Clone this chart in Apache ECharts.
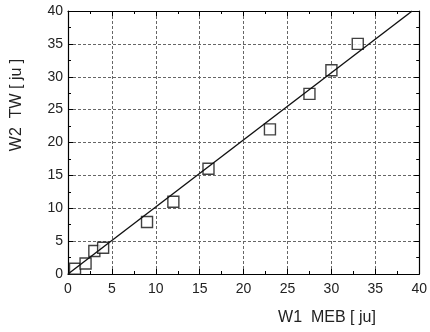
<!DOCTYPE html>
<html><head><meta charset="utf-8">
<script src="https://cdn.jsdelivr.net/npm/echarts@6/dist/echarts.min.js"></script>
<style>html,body{margin:0;padding:0;background:#fff}#c{width:430px;height:332px}</style>
</head><body><div id="c"></div>
<script>
var xValues = [0.8, 2.0, 3.0, 4.0, 9.0, 12.0, 16.0, 23.0, 27.5, 30.0, 33.0];
var yValues = [0.8, 1.6, 3.5, 4.0, 7.9, 11.0, 16.0, 22.0, 27.4, 31.0, 35.0];
var fitX = [0, 39.2];
var fitY = [0, 40];
var xName = 'W1  MEB [ ju]';
var yName = 'W2  TW [ ju ]';

var pts = xValues.map(function(v,i){return [v, yValues[i]];});
var fit = fitX.map(function(v,i){return [v, fitY[i]];});
var font = 'Liberation Sans, Arial, sans-serif';
function axis(pos, show, isX){
  return {
    type:'value', min:0, max:40, interval:5, position:pos,
    axisLine:{show:true, onZero:false, lineStyle:{color:'#000', width:1.2}},
    axisTick:{show:true, inside:true, length:5, lineStyle:{color:'#000'}},
    minorTick:{show:true, splitNumber:2, length:3, lineStyle:{color:'#000'}},
    axisLabel:{show:show, color:'#222', fontSize:14, fontFamily:font, margin:isX?8:5},
    splitLine:{show:show, lineStyle:{color:'#666', type:[3,2], width:1}},
    minorSplitLine:{show:false}
  };
}
var chart = echarts.init(document.getElementById('c'));
chart.setOption({
  animation:false,
  grid:{left:68, right:8, top:11, bottom:58},
  xAxis:[axis('bottom', true, true), axis('top', false, true)],
  yAxis:[axis('left', true, false), axis('right', false, false)],
  graphic:[
    {type:'text', style:{text:xName, font:'16px '+font, fill:'#222', textAlign:'center', textVerticalAlign:'middle'}, x:327, y:318},
    {type:'text', style:{text:yName, font:'16px '+font, fill:'#222', textAlign:'center', textVerticalAlign:'middle'}, x:17, y:105, rotation:Math.PI/2}
  ],
  series:[
    {type:'scatter', data:pts, symbol:'rect', symbolSize:11,
     itemStyle:{color:'#fff', borderColor:'#111', borderWidth:1.4}, z:2},
    {type:'line', data:fit, showSymbol:false, symbol:'none',
     lineStyle:{color:'#111', width:1.4}, z:3}
  ]
});
</script></body></html>
